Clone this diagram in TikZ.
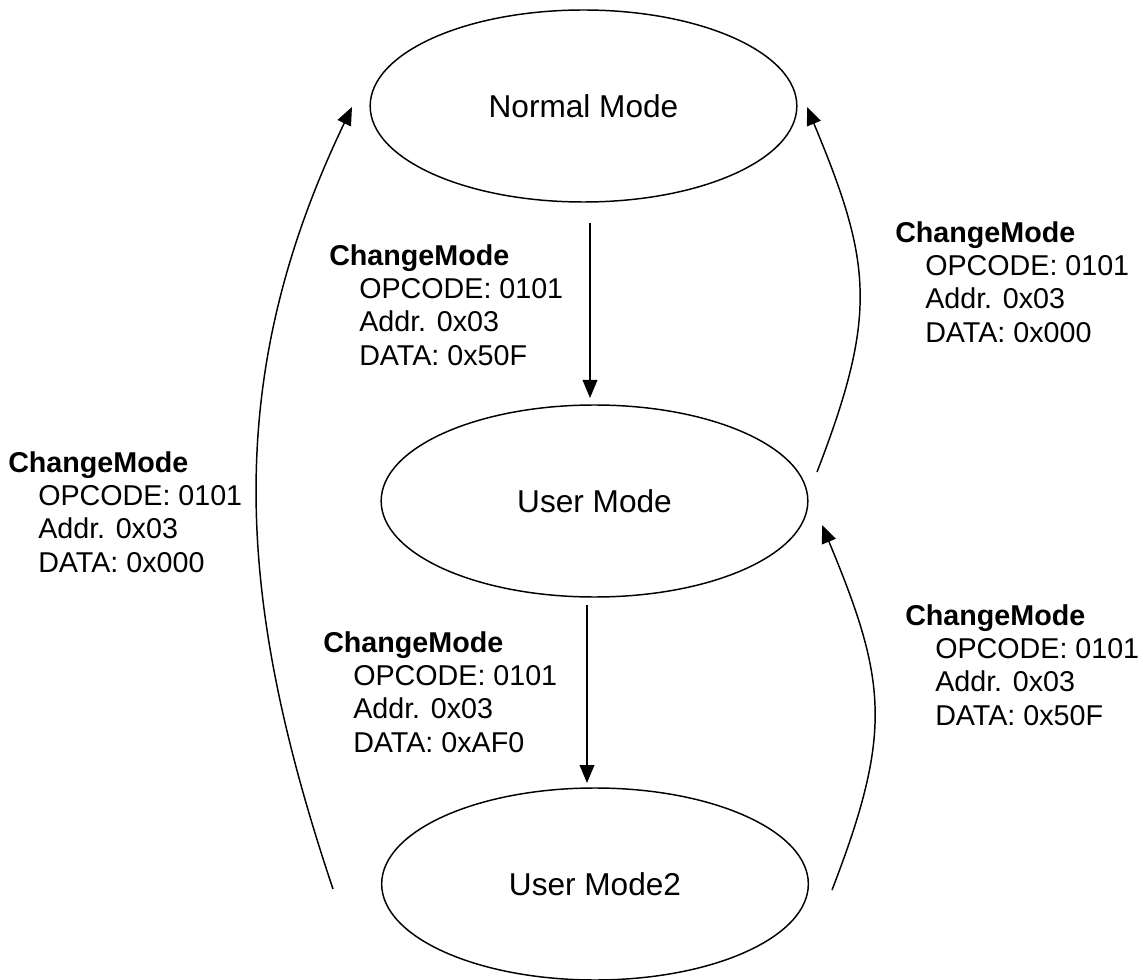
\documentclass[tikz,border=0pt]{standalone}
\usepackage{fontspec}
\setmainfont{Liberation Sans}
\usetikzlibrary{arrows.meta,shapes.geometric}
\newcommand{\cmtext}[1]{\textbf{ChangeMode}\\\hspace*{22.5pt}OPCODE: 0101\\\hspace*{22.5pt}Addr. 0x03\\\hspace*{22.5pt}DATA: #1}
\begin{document}
\begin{tikzpicture}[x=0.75pt,y=-0.75pt,
  mode/.style={draw, ellipse, line width=1.1pt, inner sep=0pt, minimum width=320pt, minimum height=144pt, font=\fontsize{23.7}{28}\selectfont},
  lbl/.style={anchor=north west, inner sep=0pt, align=left, font=\fontsize{21.5}{25}\selectfont},
  conn/.style={line width=1.1pt, -{Triangle[length=13.5pt,width=11pt]}}]
\useasboundingbox (0,0) rectangle (1143,980);
\node[mode] (st0) at (583.5,106){Normal Mode};
\node[mode] (st1) at (594.5,501){User Mode};
\node[mode] (st2) at (595,884){User Mode2};
% free ends of the connectors
\coordinate (s01) at (590,223);
\coordinate (t01) at (590,398);
\coordinate (s12) at (587,605);
\coordinate (t12) at (587,783);
\coordinate (s20) at (333,889);
\coordinate (t20) at (352,107);
\coordinate (s10) at (817,472);
\coordinate (t10) at (807,107);
\coordinate (s21) at (832,890);
\coordinate (t21) at (822,525);
\draw[conn] (s01) -- (t01);
\draw[conn] (s12) -- (t12);
\draw[conn] (s20) .. controls (236,600) and (221,380) .. (t20);
\draw[conn] (s10) .. controls (878,314) and (872,263) .. (t10);
\draw[conn] (s21) .. controls (893,732) and (887,681) .. (t21);
\node[lbl] (lbl01) at (329,244){\cmtext{0x50F}};
\node[lbl] (lbl12) at (323,631){\cmtext{0xAF0}};
\node[lbl] (lbl20) at (8,451){\cmtext{0x000}};
\node[lbl] (lbl10) at (895,221){\cmtext{0x000}};
\node[lbl] (lbl21) at (905,604){\cmtext{0x50F}};
\end{tikzpicture}
\end{document}
